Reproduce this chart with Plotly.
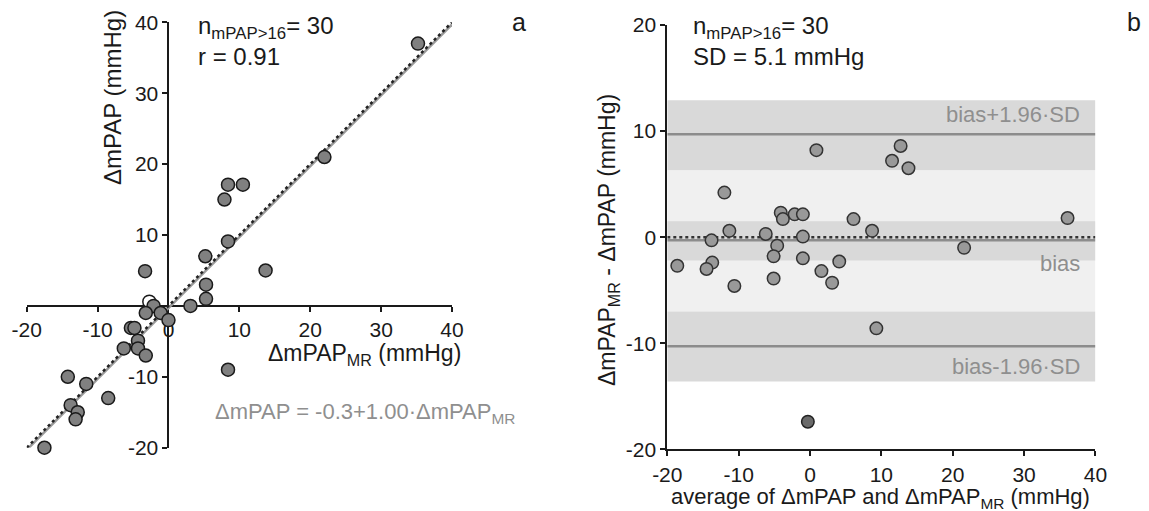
import plotly.graph_objects as go

W, H = 1149, 511
OFF = 8  # default page body margin
FW, FH = W - OFF, H - OFF

# ---------------- data: panel a (correlation) ----------------
dmpap_mr = [5.2, -3.3, 5.3, 5.3, 3.1, -2.1, -3.2, -1.1, 0.0, -5.3, -4.8, -4.3, -4.3,
            -6.3, -3.2, -14.2, -11.6, -8.5, -13.8, -12.8, -13.1, -17.5, 8.4, 8.4,
            10.5, 7.9, 8.4, 13.7, 22.0, 35.2]
dmpap = [7.0, 4.9, 3.0, 1.0, 0.0, 0.0, -1.0, -1.0, -2.0, -3.1, -3.1, -4.9, -6.0,
         -6.0, -7.0, -10.0, -11.0, -13.0, -14.0, -15.0, -16.0, -20.0, -9.0, 17.1,
         17.1, 15.0, 9.1, 5.0, 21.0, 37.0]
open_mr = [-2.7]
open_mpap = [0.6]
reg_intercept = -0.3
reg_slope = 1.00
range_a = [-20, 40]
xticks_a = [-20, -10, 0, 10, 20, 30, 40]
xticklabels_a = ["-20", "-10", "0", "10", "20", "30", "40"]
yticks_a = [-20, -10, 10, 20, 30, 40]
yticklabels_a = ["-20", "-10", "10", "20", "30", "40"]

# ---------------- data: panel b (Bland-Altman) ----------------
ba_avg = [0.9, 12.7, 11.5, 13.8, 36.1, 21.6, -12.0, -4.1, -3.8, -2.15, -1.0, 6.1,
          8.7, -11.3, -6.2, -1.0, -13.8, -4.6, -5.1, -1.0, -18.6, -13.7, -14.5,
          4.1, 1.6, 3.1, -5.1, -10.6, 9.3]
ba_diff = [8.2, 8.6, 7.2, 6.5, 1.8, -1.0, 4.2, 2.3, 1.7, 2.15, 2.15, 1.7,
           0.6, 0.6, 0.3, 0.05, -0.3, -0.8, -1.8, -2.0, -2.7, -2.4, -3.0,
           -2.3, -3.2, -4.3, -3.9, -4.6, -8.6]
ba_dark_avg = [-0.3]
ba_dark_diff = [-17.4]
bias = -0.3
sd = 5.1
bias_ci = [-2.2, 1.5]
upper_ci = [6.3, 12.9]
lower_ci = [-13.6, -7.0]
range_bx = [-20, 40]
range_by = [-20, 20]
xticks_b = [-20, -10, 0, 10, 20, 30, 40]
xticklabels_b = ["-20", "-10", "0", "10", "20", "30", "40"]
yticks_b = [-20, -10, 0, 10, 20]
yticklabels_b = ["-20", "-10", "0", "10", "20"]

upper_loa = bias + 1.96 * sd
lower_loa = bias - 1.96 * sd


def px(x):
    return (x - OFF) / FW


def py(y):
    return 1 - (y - OFF) / FH


FONT = "Liberation Sans, Arial, sans-serif"
TXT = "#1a1a1a"
GREY_TXT = "#8f8f8f"
TICKF = dict(family=FONT, size=21, color=TXT)

fig = go.Figure()

# ---- panel a lines ----
line_x = [range_a[0], range_a[1]]
fig.add_trace(go.Scatter(x=line_x, y=[reg_intercept + reg_slope * v for v in line_x],
                         mode="lines", line=dict(color="#9a9a9a", width=2.5),
                         xaxis="x", yaxis="y", showlegend=False, hoverinfo="skip"))
fig.add_trace(go.Scatter(x=line_x, y=line_x, mode="lines",
                         line=dict(color="#222222", width=2.5, dash="dot"),
                         xaxis="x", yaxis="y", showlegend=False, hoverinfo="skip"))
fig.add_trace(go.Scatter(x=open_mr, y=open_mpap, mode="markers",
                         marker=dict(size=13, color="white", line=dict(color="#1a1a1a", width=1.5)),
                         xaxis="x", yaxis="y", showlegend=False, cliponaxis=False))
fig.add_trace(go.Scatter(x=dmpap_mr, y=dmpap, mode="markers",
                         marker=dict(size=13, color="#808080", line=dict(color="#1a1a1a", width=1.5)),
                         xaxis="x", yaxis="y", showlegend=False, cliponaxis=False))

# ---- panel b markers ----
fig.add_trace(go.Scatter(x=ba_avg, y=ba_diff, mode="markers",
                         marker=dict(size=12.5, color="#999999", line=dict(color="#333333", width=1.5)),
                         xaxis="x2", yaxis="y2", showlegend=False, cliponaxis=False))
fig.add_trace(go.Scatter(x=ba_dark_avg, y=ba_dark_diff, mode="markers",
                         marker=dict(size=12.5, color="#6a6a6a", line=dict(color="#222222", width=1.5)),
                         xaxis="x2", yaxis="y2", showlegend=False, cliponaxis=False))

shapes = []
DARK = "#d9d9d9"
LIGHT = "#f0f0f0"
x0b, x1b = range_bx
shapes.append(dict(type="rect", xref="x2", yref="y2", x0=x0b, x1=x1b, y0=lower_ci[1], y1=upper_ci[0],
                   fillcolor=LIGHT, line=dict(width=0), layer="below"))
for lo, hi in (upper_ci, bias_ci, lower_ci):
    shapes.append(dict(type="rect", xref="x2", yref="y2", x0=x0b, x1=x1b, y0=lo, y1=hi,
                       fillcolor=DARK, line=dict(width=0), layer="below"))
for yv in (upper_loa, bias, lower_loa):
    shapes.append(dict(type="line", xref="x2", yref="y2", x0=x0b, x1=x1b, y0=yv, y1=yv,
                       line=dict(color="#8c8c8c", width=2.5), layer="below"))
shapes.append(dict(type="line", xref="x2", yref="y2", x0=x0b, x1=x1b, y0=0, y1=0,
                   line=dict(color="#333333", width=2.5, dash="dot"), layer="below"))

# axis geometry (pixels in the reference picture)
ax_l, ax_r = 26.7, 452.0
ay_b, ay_t = 447.7, 22.3
a_x0_px = ax_l + (0 - range_a[0]) / (range_a[1] - range_a[0]) * (ax_r - ax_l)
a_y0_px = ay_b - (0 - range_a[0]) / (range_a[1] - range_a[0]) * (ay_b - ay_t)

bx_l, bx_r = 667.3, 1095.4
by_b, by_t = 449.3, 25.0

axcommon = dict(showgrid=False, zeroline=False, showline=True, linecolor="#1a1a1a", linewidth=2,
                ticks="outside", ticklen=5, tickwidth=2, tickcolor="#1a1a1a", automargin=False,
                tickfont=TICKF, layer="below traces", fixedrange=True)

fig.update_layout(
    width=FW, height=FH,
    margin=dict(l=0, r=0, t=0, b=0, autoexpand=False),
    paper_bgcolor="white", plot_bgcolor="rgba(0,0,0,0)",
    font=dict(family=FONT, color=TXT),
    shapes=shapes,
    xaxis=dict(domain=[px(ax_l), px(ax_r)], range=range_a, tickvals=xticks_a, ticktext=xticklabels_a,
               anchor="free", position=py(a_y0_px), **axcommon),
    yaxis=dict(domain=[py(ay_b), py(ay_t)], range=range_a, tickvals=yticks_a, ticktext=yticklabels_a,
               anchor="free", position=px(a_x0_px), **axcommon),
    xaxis2=dict(domain=[px(bx_l), px(bx_r)], range=range_bx, tickvals=xticks_b, ticktext=xticklabels_b,
                anchor="y2", **axcommon),
    yaxis2=dict(domain=[py(by_b), py(by_t)], range=range_by, tickvals=yticks_b, ticktext=yticklabels_b,
                anchor="x2", **axcommon),
)


def ann(text, x, y, size=23, color=TXT, xanchor="center", angle=0, yanchor="middle"):
    fig.add_annotation(text=text, x=px(x), y=py(y), xref="paper", yref="paper",
                       showarrow=False, xanchor=xanchor, yanchor=yanchor, textangle=angle,
                       font=dict(family=FONT, size=size, color=color))


# panel a texts
ann("ΔmPAP (mmHg)", 112, 98, size=24, angle=-90)
ann("ΔmPAP<sub>MR</sub> (mmHg)", 364, 354)
ann("n<sub>mPAP&gt;16</sub>= 30", 196, 28, size=24, xanchor="left")
ann("r = 0.91", 196, 56, size=24, xanchor="left")
ann("a", 519, 22, size=25)
ann("ΔmPAP = -0.3+1.00·ΔmPAP<sub>MR</sub>", 213, 413, size=22, color=GREY_TXT, xanchor="left")

# panel b texts
ann("ΔmPAP<sub>MR</sub> - ΔmPAP (mmHg)", 608, 240, angle=-90)
ann("average of ΔmPAP and ΔmPAP<sub>MR</sub> (mmHg)", 880, 498, size=22)
ann("n<sub>mPAP&gt;16</sub>= 30", 691, 28, size=24, xanchor="left")
ann("SD = 5.1 mmHg", 691, 56, size=24, xanchor="left")
ann("b", 1134, 22, size=25)
ann("bias+1.96·SD", 1082, 115, size=22, color=GREY_TXT, xanchor="right")
ann("bias", 1082, 263, size=22, color=GREY_TXT, xanchor="right")
ann("bias-1.96·SD", 1082, 366, size=22, color=GREY_TXT, xanchor="right")

fig.write_html("out.html")
